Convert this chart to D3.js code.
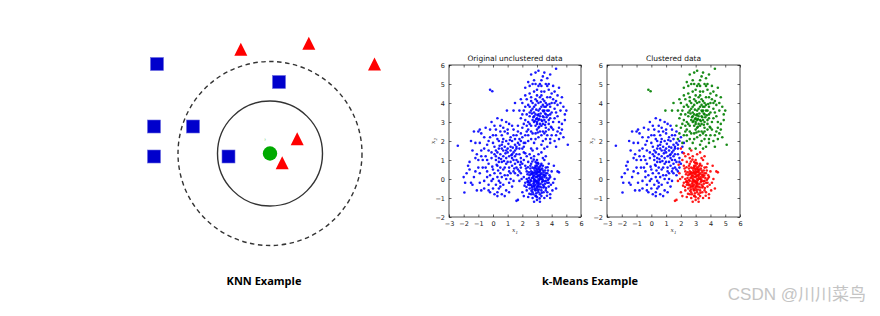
<!DOCTYPE html>
<html><head><meta charset="utf-8">
<script src="https://cdn.jsdelivr.net/npm/d3@7"></script>
<style>html,body{margin:0;padding:0;background:#fff;}svg{display:block;}</style>
</head><body>
<svg id="c" width="880" height="316"></svg>
<script>
// ---------- KNN panel data (units relative to query point) ----------
const knnSquares = [[-11.3,8.95],[0.9,7.15],[-11.6,2.7],[-7.7,2.7],[-11.6,-0.3],[-4.15,-0.3]];
const knnTriangles = [[-2.92,10.43],[3.88,11.03],[10.45,8.95],[2.72,1.47],[1.22,-0.92]];
const knnQuery = [0,0];
const knnRadii = [5.25, 9.2];
const panelLabels = ["KNN Example","k-Means Example"];

// ---------- k-Means data ----------
const clusterRed = [[2.9,0.1],[3.1,-0.2],[2.7,0.3],[3.3,0.0],[2.8,-0.4],[3.0,0.5],[3.4,-0.3],[2.6,-0.1],[3.2,0.4],[2.9,-0.6],
[3.5,0.2],[2.5,0.2],[3.1,0.8],[2.8,0.0],[3.0,-0.1],[3.3,-0.6],[2.7,-0.7],[3.6,-0.1],[2.4,-0.3],[3.2,0.1],
[2.95,0.25],[3.05,-0.35],[2.85,0.45],[3.15,-0.05],[2.75,0.15],[3.25,0.25],[2.65,-0.45],[3.35,0.55],[2.55,0.55],[3.45,-0.45],
[3.0,1.0],[2.6,0.8],[3.4,0.7],[2.3,0.4],[3.7,0.3],[2.2,-0.2],[3.8,-0.4],[2.9,-0.9],[3.3,-0.9],[2.6,-0.8],
[3.9,0.1],[2.1,0.1],[3.1,1.3],[2.8,1.2],[3.5,1.0],[2.4,0.9],[3.7,-0.7],[2.3,-0.6],[3.0,-1.1],[2.7,-1.0],
[3.6,0.6],[2.5,-0.5],[3.2,-0.8],[2.9,0.7],[3.1,0.6],[2.8,-0.2],[3.3,0.3],[2.6,0.4],[3.4,-0.1],[2.7,0.6],
[3.0,0.3],[2.9,-0.3],[3.2,-0.4],[2.8,0.2],[3.1,0.0],[2.95,-0.15],[3.05,0.15],[3.15,-0.55],[2.85,-0.5],[3.25,-0.25],
[2.75,-0.25],[3.35,0.1],[2.65,0.05],[3.45,0.35],[2.55,-0.05],[3.55,-0.25],[2.45,0.05],[3.65,0.05],[2.35,0.25],[3.75,0.45],
[4.0,0.4],[4.1,-0.2],[4.4,0.4],[3.9,-0.8],[3.8,0.8],[1.9,0.3],[1.8,-0.1],[1.7,-1.1],[1.6,-1.15],[2.0,-0.7],
[2.2,0.7],[2.1,1.0],[2.5,1.3],[2.7,1.5],[3.3,1.4],[3.6,1.2],[2.0,1.6],[2.3,1.2],[3.9,-1.0],[3.5,-1.0],
[3.2,-1.2],[2.8,-1.2],[2.4,-0.95],[3.6,-0.6],[4.2,0.0],[4.3,-0.5],[3.85,0.2],[3.95,-0.3],[2.15,-0.35],[2.25,0.55],
[2.9,0.9],[3.1,-0.7],[3.3,0.8],[2.6,-0.3],[3.4,0.45],[2.7,-0.55],[3.2,0.65],[2.8,0.55],[3.0,-0.5],[3.0,0.7],
[2.95,-0.75],[3.05,0.85],[3.5,0.1],[2.5,-0.2],[3.55,0.45],[2.45,0.35],[3.7,-0.2],[2.3,0.0],[3.3,-0.45],[2.7,0.35],
[3.15,0.35],[2.85,-0.05],[3.1,-0.15],[2.9,0.35],[3.2,0.2],[2.8,-0.35],[3.05,-0.6],[2.95,0.55],[3.35,-0.15],[2.65,0.25],
[3.6,0.3],[2.4,-0.1],[3.0,0.1],[3.1,0.2],[2.9,-0.1],[3.25,0.5],[2.75,-0.8],[3.45,-0.7],[2.55,0.7],[3.8,-0.2],
[2.72,0.08],[3.12,-0.28],[2.88,0.62],[3.38,-0.02],[2.62,-0.62],[3.28,0.72],[2.98,-0.42],[3.58,0.18],[2.42,-0.18],[3.18,0.48],
[2.78,-0.12],[3.08,0.38],[3.48,-0.38],[2.58,0.28],[2.92,-0.88],[3.32,-0.72],[2.68,0.92],[3.62,-0.48],[2.38,0.62],[3.72,0.62],
[2.82,0.32],[3.02,-0.22],[3.22,0.02],[2.52,-0.32],[3.42,0.22],[2.88,-0.58],[3.12,0.52],[2.68,-0.38],[3.52,-0.12],[2.98,0.82],
[3.82,0.02],[2.28,-0.42],[3.18,-1.02],[2.78,1.02],[3.68,-0.88],[2.48,-0.78],[4.05,-0.6],[1.95,0.0],[3.4,1.1],[2.6,1.1],
[2.2,1.35],[1.85,0.75],[4.15,0.7],[4.5,0.35],[3.0,-0.95],[2.1,-0.9],[3.75,-0.05],[2.35,-0.15],[3.0,0.4],[3.1,-0.4]];
const clusterGreen = [[3.2,3.3],[3.0,2.9],[3.5,3.6],[2.8,3.5],[3.6,3.0],[2.6,2.8],[3.9,3.4],[3.1,4.0],[3.4,2.5],[2.9,4.2],
[3.7,4.3],[2.5,3.3],[4.1,3.0],[3.3,3.8],[2.7,2.4],[3.8,2.6],[2.4,3.9],[4.2,3.7],[3.0,4.7],[3.5,4.6],
[2.2,3.1],[4.4,3.3],[3.1,2.2],[3.6,2.1],[2.6,2.1],[4.0,2.3],[2.3,2.5],[4.5,2.7],[3.2,5.0],[3.8,5.0],
[2.8,5.2],[3.4,5.4],[2.9,5.6],[3.1,5.7],[3.5,5.6],[4.3,5.8],[3.7,5.3],[2.5,4.5],[4.0,4.5],[4.3,4.1],
[2.1,3.6],[2.0,2.7],[1.9,3.2],[2.3,4.2],[2.0,4.0],[4.6,3.6],[4.7,2.9],[4.9,3.4],[5.0,3.6],[5.1,1.8],
[4.8,2.2],[4.5,2.1],[4.2,2.0],[3.9,1.9],[3.3,1.8],[2.8,1.9],[2.4,2.0],[2.2,2.3],[3.7,1.7],[3.0,1.6],
[3.15,3.15],[3.25,3.45],[3.35,3.05],[3.05,3.35],[3.45,3.25],[2.95,3.15],[3.55,3.45],[2.85,3.05],[3.65,3.25],[2.75,3.25],
[3.2,3.7],[3.3,2.8],[3.1,3.6],[3.4,2.9],[3.0,3.2],[3.6,3.8],[2.8,3.0],[3.8,3.1],[2.7,3.7],[3.9,3.8],
[3.5,4.1],[3.2,4.3],[2.9,3.9],[3.6,4.0],[3.3,4.4],[3.0,4.4],[3.7,3.6],[2.6,3.6],[4.0,3.5],[3.4,3.3],
[3.3,2.3],[3.0,2.6],[3.6,2.7],[2.9,2.4],[3.8,2.9],[2.5,2.9],[4.1,2.6],[2.4,2.6],[3.2,2.5],[3.5,2.4],
[2.7,4.0],[2.6,4.3],[3.8,4.7],[4.1,4.2],[3.3,4.9],[2.8,4.6],[4.2,3.2],[4.3,3.5],[2.3,3.4],[2.1,2.9],
[3.45,3.55],[3.15,2.75],[3.75,3.35],[2.95,3.65],[3.55,2.85],[3.25,4.05],[2.65,3.45],[3.85,3.95],[3.05,2.45],[3.95,2.75],
[2.4,3.0],[4.4,2.5],[3.4,3.9],[2.9,2.8],[3.7,2.3],[2.5,3.8],[4.0,4.0],[3.1,4.9],[3.6,5.0],[2.7,5.0],
[1.5,4.0],[1.4,3.6],[0.95,3.6],[-0.2,4.7],[-0.05,4.62],[1.8,3.6],[1.7,2.8],[1.9,2.4],[4.6,4.0],[4.4,4.4],
[3.3,3.1],[3.1,3.4],[3.5,3.1],[2.9,3.4],[3.2,2.9],[3.4,3.6],[2.8,3.3],[3.6,3.4],[3.0,3.0],[3.4,4.2],
[2.2,4.8],[2.4,5.1],[2.6,5.5],[3.9,5.5],[4.1,4.9],[4.5,4.8],[4.7,4.3],[4.8,3.8],[4.9,3.1],[4.6,2.4],
[4.3,1.7],[3.5,1.6],[2.6,1.6],[2.1,1.9],[1.8,2.1],[2.0,3.4],[1.9,4.2],[2.2,4.4],[2.5,4.9],[2.9,5.0],
[3.3,5.2],[3.7,4.9],[4.2,4.6],[4.4,3.9],[4.5,3.0],[4.3,2.3],[3.9,2.1],[3.4,2.0],[2.9,2.1],[2.4,2.3],
[2.3,2.8],[2.2,3.8],[2.6,4.1],[3.0,4.1],[3.5,3.8],[3.9,3.2],[4.0,2.7],[3.6,2.5],[3.1,2.7],[2.7,3.1],
[2.5,3.5],[2.8,3.8],[3.3,4.6],[3.9,4.3],[4.2,4.0],[3.7,3.9],[3.1,3.1],[3.8,3.6],[2.6,2.5],[4.7,2.6]];
const clusterBlue = [[0.7,1.2],[0.4,1.6],[1.0,0.9],[0.2,1.0],[1.2,1.5],[0.5,0.6],[0.9,2.0],[-0.1,1.4],[1.4,1.0],[0.3,2.1],
[1.1,0.4],[-0.3,0.8],[1.5,1.8],[0.0,1.9],[0.8,0.2],[0.6,2.3],[1.3,0.7],[-0.5,1.2],[1.6,1.3],[0.1,0.3],
[1.7,0.9],[-0.2,2.2],[0.4,-0.1],[1.0,2.4],[-0.7,0.6],[1.8,1.6],[0.2,2.6],[-0.4,1.8],[1.2,2.2],[0.5,-0.4],
[-0.8,1.5],[1.9,1.1],[0.0,0.0],[0.7,2.7],[-1.0,1.0],[1.4,-0.1],[0.3,-0.7],[-0.6,-0.1],[0.9,-0.6],[-0.3,-0.3],
[-1.2,0.4],[-1.0,2.5],[-0.8,2.4],[-0.5,2.7],[-0.2,2.6],[0.1,2.8],[-1.4,1.5],[-1.6,0.9],[-1.3,0.1],[-1.8,0.3],
[-2.4,1.75],[-1.95,-0.71],[-1.1,-0.6],[-0.9,-0.2],[-0.3,-0.6],[0.1,-0.8],[0.6,-0.8],[0.8,-0.9],[1.1,-0.7],[1.3,-0.4],
[1.5,0.3],[1.6,0.6],[1.8,0.4],[2.0,0.8],[2.1,1.4],[2.2,1.9],[1.9,2.0],[1.6,2.3],[1.4,2.6],[1.1,2.9],
[0.6,3.1],[0.3,3.2],[-0.1,3.0],[0.7,1.5],[0.5,1.3],[0.9,1.1],[0.3,1.4],[1.1,1.2],[0.6,0.9],[0.8,1.7],
[0.2,1.2],[1.0,1.6],[0.4,0.9],[1.3,1.3],[0.1,1.7],[0.7,0.5],[1.5,1.5],[-0.1,1.1],[1.2,0.9],[0.4,2.0],
[0.85,1.35],[0.55,1.05],[1.05,1.85],[0.25,0.75],[1.35,1.65],[0.65,1.95],[-0.05,0.65],[1.45,0.55],[0.35,0.45],[1.15,2.05],
[-0.4,0.4],[-0.6,1.6],[-0.2,0.2],[1.7,1.9],[1.6,1.0],[0.9,0.0],[0.0,2.3],[-0.9,1.9],[-0.7,1.0],[1.8,1.3],
[0.5,2.5],[0.8,2.5],[1.3,2.0],[1.5,2.1],[-0.3,1.5],[-1.1,1.3],[-1.5,2.0],[-1.2,1.9],[-0.9,0.3],[-0.6,-0.5],
[0.2,-0.3],[0.6,0.1],[1.0,0.2],[1.2,0.0],[1.7,0.2],[1.9,0.6],[0.3,0.1],[-0.1,-0.1],[0.5,0.3],[0.8,0.6],
[1.4,1.4],[1.0,1.4],[0.6,1.6],[0.2,1.5],[0.9,0.8],[1.3,1.1],[0.4,1.1],[0.7,2.1],[1.1,0.6],[-0.4,1.0],
[1.6,1.6],[1.5,1.2],[1.2,1.7],[0.9,1.5],[-1.7,0.7],[-2.0,0.1],[-1.5,-0.2],[-0.8,-0.6],[0.0,-0.5],[0.4,-0.5],
[-1.3,2.5],[-0.9,2.6],[-0.6,2.2],[-1.0,0.6],[-1.4,-0.3],[-1.9,-0.2],[-1.6,0.5],[-0.2,-0.7],[0.3,-0.9],[0.5,-0.2],
[0.0,0.5],[-0.4,0.1],[0.1,1.3],[0.6,1.8],[1.0,2.6],[1.4,2.3],[1.7,2.5],[2.0,2.2],[2.1,1.7],[1.9,0.9],
[1.7,0.5],[1.5,0.8],[1.2,0.3],[0.7,-0.3],[1.1,-0.2],[1.4,0.4],[0.3,0.7],[-0.5,0.6],[-0.8,1.2],[-1.2,1.1],
[-0.3,2.0],[0.2,2.3],[0.5,2.8],[0.9,3.0],[1.3,2.8],[1.6,1.7],[1.8,1.8],[1.25,1.25],[0.75,0.95],[0.45,1.75]];
const xTicks = [-3,-2,-1,0,1,2,3,4,5,6];
const yTicks = [-2,-1,0,1,2,3,4,5,6];
const plotTitles = ["Original unclustered data","Clustered data"];
const watermark = "CSDN @川川菜鸟";

const svg = d3.select("#c");

// ---------- KNN ----------
const kx = d3.scaleLinear().domain([-10,10]).range([170,370]);
const ky = d3.scaleLinear().domain([-10,10]).range([253.5,53.5]);
const kr = d3.scaleLinear().domain([0,10]).range([0,100]);
const knn = svg.append("g");
knn.append("circle").attr("cx",kx(0)).attr("cy",ky(0)).attr("r",kr(knnRadii[1]))
  .attr("fill","none").attr("stroke","#333").attr("stroke-width",1.4).attr("stroke-dasharray","4.5,3.5");
knn.append("circle").attr("cx",kx(0)).attr("cy",ky(0)).attr("r",kr(knnRadii[0]))
  .attr("fill","none").attr("stroke","#333").attr("stroke-width",1.4);
knn.selectAll("rect.sq").data(knnSquares).join("rect").attr("class","sq")
  .attr("x",d=>kx(d[0])-6.5).attr("y",d=>ky(d[1])-6.5).attr("width",13).attr("height",13)
  .attr("fill","#0000cc").attr("stroke","#6a6ae0").attr("stroke-width",0.6);
knn.selectAll("path.tri").data(knnTriangles).join("path").attr("class","tri")
  .attr("d",d=>{const cx=kx(d[0]),cy=ky(d[1]);return `M${cx},${cy-6.5}L${cx+6.5},${cy+6.5}L${cx-6.5},${cy+6.5}Z`;})
  .attr("fill","#ff0000");
knn.append("circle").attr("cx",kx(knnQuery[0])).attr("cy",ky(knnQuery[1])).attr("r",7.2).attr("fill","#00aa00");
knn.append("text").attr("x",kx(-0.5)).attr("y",ky(1.3)).attr("font-size",3).attr("fill","#00aa00")
  .attr("text-anchor","middle").attr("font-family","DejaVu Sans").text("?");

// ---------- Scatter plots ----------
const yS = d3.scaleLinear().domain([-2,6]).range([217,65]);
function drawPlot(x0,x1,title,groups){
  const xS = d3.scaleLinear().domain([-3,6]).range([x0,x1]);
  const g = svg.append("g");
  groups.forEach(([pts,color])=>{
    g.selectAll(null).data(pts).join("circle")
      .attr("cx",d=>xS(d[0])).attr("cy",d=>yS(d[1])).attr("r",1.3)
      .attr("fill",color).attr("fill-opacity",0.9);
  });
  const fmt = d=> d<0 ? "\u2212"+Math.abs(d) : ""+d;
  const style = sel=>{sel.select(".domain").remove();
    sel.selectAll("line").attr("stroke","#000").attr("stroke-width",0.6);
    sel.selectAll("text").attr("font-size",6.5).attr("fill","#222").attr("font-family","DejaVu Sans");};
  g.append("g").attr("transform",`translate(0,${yS(-2)})`)
    .call(d3.axisBottom(xS).tickValues(xTicks).tickSize(-2.5).tickPadding(4).tickFormat(fmt)).call(style);
  g.append("g").attr("transform",`translate(0,${yS(6)})`)
    .call(d3.axisTop(xS).tickValues(xTicks).tickSize(-2.5).tickFormat("")).call(style);
  g.append("g").attr("transform",`translate(${x0},0)`)
    .call(d3.axisLeft(yS).tickValues(yTicks).tickSize(-2.5).tickPadding(4).tickFormat(fmt)).call(style);
  g.append("g").attr("transform",`translate(${x1},0)`)
    .call(d3.axisRight(yS).tickValues(yTicks).tickSize(-2.5).tickFormat("")).call(style);
  g.append("rect").attr("x",x0).attr("y",yS(6)).attr("width",x1-x0).attr("height",yS(-2)-yS(6))
    .attr("fill","none").attr("stroke","#000").attr("stroke-width",0.7);
  g.append("text").attr("x",(x0+x1)/2).attr("y",yS(6)-4).attr("text-anchor","middle")
    .attr("font-size",7.5).attr("fill","#111").attr("font-family","DejaVu Sans").text(title);
  const xl = g.append("text").attr("x",(x0+x1)/2).attr("y",yS(-2)+15).attr("text-anchor","middle")
    .attr("font-size",6).attr("font-style","italic").attr("fill","#333").attr("font-family","DejaVu Serif");
  xl.append("tspan").text("x");
  xl.append("tspan").attr("font-size",4).attr("dy",1.5).text("1");
  const yl = g.append("text").attr("transform",`translate(${x0-14},${(yS(6)+yS(-2))/2}) rotate(-90)`)
    .attr("text-anchor","middle").attr("font-size",6).attr("font-style","italic").attr("fill","#333").attr("font-family","DejaVu Serif");
  yl.append("tspan").text("x");
  yl.append("tspan").attr("font-size",4).attr("dy",1.5).text("2");
}
drawPlot(449,581,plotTitles[0],[[clusterBlue,"#0000ff"],[clusterGreen,"#0000ff"],[clusterRed,"#0000ff"]]);
drawPlot(607,740,plotTitles[1],[[clusterBlue,"#0000ff"],[clusterGreen,"#008000"],[clusterRed,"#ff0000"]]);

// ---------- labels ----------
svg.append("text").attr("x",264).attr("y",285).attr("text-anchor","middle")
  .attr("font-family","Open Sans").attr("font-weight","bold").attr("font-size",11).attr("fill","#000").text(panelLabels[0]);
svg.append("text").attr("x",590).attr("y",285).attr("text-anchor","middle")
  .attr("font-family","Open Sans").attr("font-weight","bold").attr("font-size",11).attr("fill","#000").text(panelLabels[1]);
svg.append("text").attr("x",866).attr("y",300).attr("text-anchor","end")
  .attr("font-family","Liberation Sans, 'Noto Sans CJK SC'").attr("font-size",17).attr("fill","#c4c4c4").text(watermark);
</script>
</body></html>
